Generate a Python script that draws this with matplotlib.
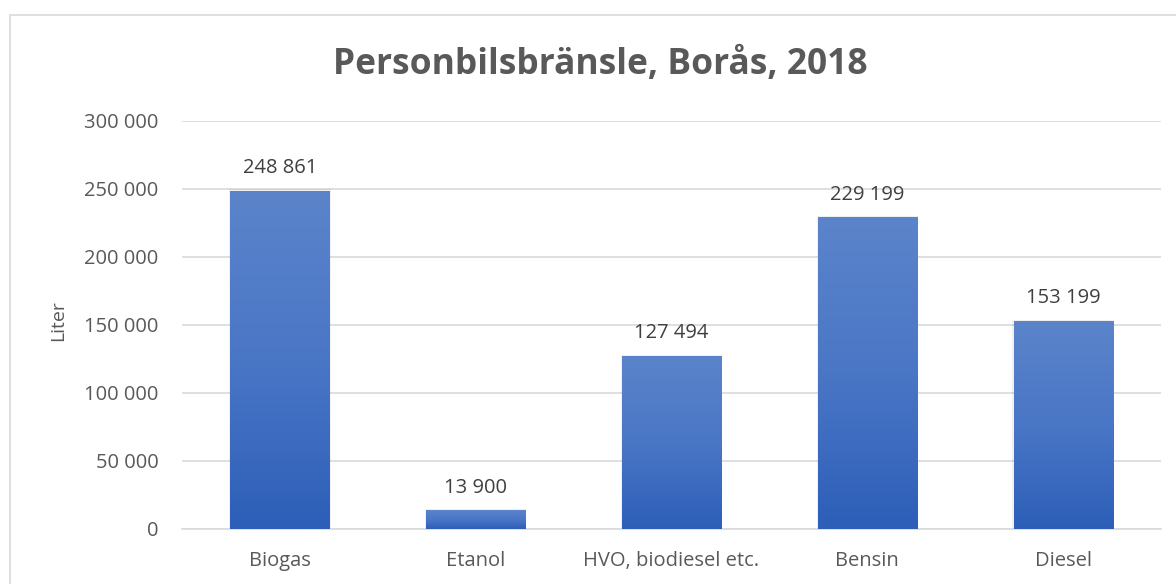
import numpy as np
import matplotlib
matplotlib.use('Agg')
import matplotlib.pyplot as plt
from matplotlib.patches import Rectangle
from matplotlib.colors import LinearSegmentedColormap

categories = ['Biogas', 'Etanol', 'HVO, biodiesel etc.', 'Bensin', 'Diesel']
values = [248861, 13900, 127494, 229199, 153199]
yticks = [0, 50000, 100000, 150000, 200000, 250000, 300000]

def fmt(v):
    return '{:,}'.format(v).replace(',', ' ')

plt.rcParams['font.family'] = ['Open Sans', 'DejaVu Sans']
txt = '#595959'
grid = '#d9d9d9'

fig = plt.figure(figsize=(11.76, 5.84), dpi=100)
# chart border
fig.patches.append(Rectangle((10/1176, -0.1), 1.2, 1 - 15/584 + 0.1, transform=fig.transFigure,
                             fill=False, edgecolor='#d9d9d9', lw=1.2))

ax = fig.add_axes([182/1176, 55/584, (1161-182)/1176, (529-121)/584])

cmap = LinearSegmentedColormap.from_list('bar', ['#2d5fb8', '#4a76c6', '#5b84ca'])
grad = np.linspace(0, 1, 256).reshape(-1, 1)
bw = 0.506
x = np.arange(len(categories))
bars = ax.bar(x, values, width=bw, color='none', zorder=3)
for b in bars:
    x0, h = b.get_x(), b.get_height()
    # soft shadow
    ax.add_patch(Rectangle((x0 - 0.006, 0), bw + 0.012, h + 800, facecolor='#000000',
                           alpha=0.06, lw=0, zorder=2))
    im = ax.imshow(grad, extent=[x0, x0 + bw, 0, h], origin='lower', cmap=cmap,
                   aspect='auto', zorder=3)
    im.set_clip_path(b)
for xi, v in zip(x, values):
    ax.text(xi, v + 9000, fmt(v), ha='center', va='bottom', fontsize=14.5, color='#404040')
ax.set_xlim(-0.5, len(categories) - 0.5)
ax.set_ylim(0, 300000)

ax.set_yticks(yticks)
ax.set_yticklabels([fmt(t) for t in yticks])
ax.set_xticks(x)
ax.set_xticklabels(categories)
ax.tick_params(axis='both', length=0, labelsize=14.5, colors=txt)
ax.tick_params(axis='y', pad=17)
ax.tick_params(axis='x', pad=16)
ax.yaxis.grid(True, color=grid, lw=1.2, zorder=0)
for s in ['top', 'right', 'left']:
    ax.spines[s].set_visible(False)
ax.spines['bottom'].set_color(grid)
ax.spines['bottom'].set_linewidth(1.2)
ax.set_ylabel('Liter', fontsize=14, color=txt)
ax.yaxis.set_label_coords(-0.117, 0.51)

fig.text(600/1176, 1 - 65/584, 'Personbilsbränsle, Borås, 2018', ha='center', va='center',
         fontsize=25.5, fontweight='bold', color=txt)

fig.savefig('out.png', dpi=100)
